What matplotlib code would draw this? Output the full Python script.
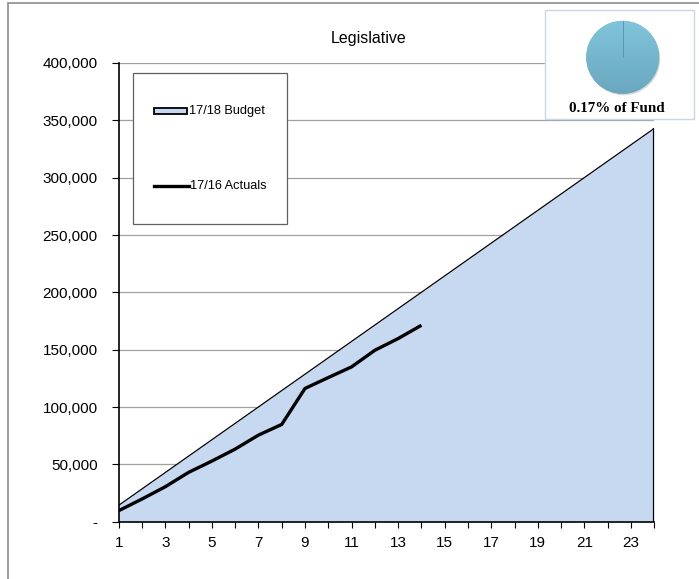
import numpy as np
import matplotlib
matplotlib.use('Agg')
import matplotlib.pyplot as plt
from matplotlib.patches import Rectangle, Circle
from matplotlib.lines import Line2D
from matplotlib.ticker import FuncFormatter, MultipleLocator

plt.rcParams['font.family'] = ['Liberation Sans', 'DejaVu Sans']

# data
months = list(range(1, 25))
budget = [14292, 28583, 42875, 57167, 71458, 85750, 100042, 114333, 128625, 142917,
          157208, 171500, 185792, 200083, 214375, 228667, 242958, 257250, 271542,
          285833, 300125, 314417, 328708, 343000]
actual_months = list(range(1, 15))
actuals = [9580, 19770, 30480, 43000, 52860, 63300, 75500, 84800, 116200, 125700,
           135000, 149500, 159700, 171300]
fund_share = [0.17, 99.83]

title = 'Legislative'
budget_label = '17/18 Budget'
actual_label = '17/16 Actuals'
pie_label = '0.17% of Fund'

W, H = 699, 579
fig = plt.figure(figsize=(W / 100, H / 100), dpi=100)

def fx(px):
    return px / W

def fy(py):
    return 1 - py / H

ax = fig.add_axes([fx(118.7), fy(521.7), fx(654.3) - fx(118.7), fy(63) - fy(521.7)])

fill_color = '#C6D9F0'
ax.fill_between(months, budget, 0, color=fill_color, lw=0, zorder=1)
ax.plot(months, budget, color='black', lw=0.9, zorder=2)
ax.vlines(months[-1], 0, budget[-1], color='black', lw=1.6, zorder=2)
ax.plot(actual_months, actuals, color='black', lw=2.4, solid_capstyle='butt', zorder=3)

ax.set_xlim(1, 24)
ax.set_ylim(0, 400000)
ax.xaxis.set_major_locator(MultipleLocator(2))
ax.xaxis.set_minor_locator(MultipleLocator(1))
ax.set_xticks(range(1, 24, 2))
ax.yaxis.set_major_locator(MultipleLocator(50000))
ax.yaxis.set_major_formatter(FuncFormatter(lambda v, p: '-' if v == 0 else f'{int(v):,}'))
ax.tick_params(axis='x', which='both', length=4, width=0.8, direction='out', pad=6, labelsize=11)
ax.tick_params(axis='y', length=5, width=0.8, direction='out', pad=10, labelsize=11)
ax.grid(axis='y', color='#A0A0A0', lw=0.9, zorder=0)
ax.set_axisbelow(True)
for s in ['top', 'right']:
    ax.spines[s].set_visible(False)
for s in ['left', 'bottom']:
    ax.spines[s].set_linewidth(1.2)
    ax.spines[s].set_zorder(4)

fig.text(fx(369), fy(38), title, ha='center', va='center', fontsize=11.5)

# outer border (right and bottom edges fall outside the image)
fig.patches.append(Rectangle((fx(8), fy(590)), fx(710) - fx(8), fy(3) - fy(590),
                             transform=fig.transFigure, fill=False, ec='#8C8C8C', lw=1.2))

# legend box drawn by hand
fig.patches.append(Rectangle((fx(132.5), fy(223.5)), fx(286.5) - fx(132.5), fy(72.5) - fy(223.5),
                             transform=fig.transFigure, fc='white', ec='#606060', lw=0.9, zorder=5))
fig.patches.append(Rectangle((fx(154), fy(114)), fx(187) - fx(154), fy(108) - fy(114),
                             transform=fig.transFigure, fc=fill_color, ec='black', lw=1.3, zorder=6))
fig.text(fx(189), fy(111), budget_label, ha='left', va='center', fontsize=9.2, zorder=6)
fig.lines.append(Line2D([fx(154), fx(189)], [fy(186), fy(186)], transform=fig.transFigure,
                        color='black', lw=2.4, zorder=6))
fig.text(fx(190), fy(186), actual_label, ha='left', va='center', fontsize=9.2, zorder=6)

# pie inset
fig.patches.append(Rectangle((fx(545), fy(119)), fx(694) - fx(545), fy(9.5) - fy(119),
                             transform=fig.transFigure, fc='white', ec='#C9D8E6', lw=1.0, zorder=7))
cx, cy, r = 622.7, 57.3, 36.5 * 1.08
pax = fig.add_axes([fx(cx - r), fy(cy + r), fx(2 * r), fy(cy - r) - fy(cy + r)], zorder=8)
pax.set_aspect('equal')
pax.axis('off')
wedges, _ = pax.pie(fund_share, startangle=90, counterclock=False, radius=1.0,
                    colors=['#78BCD4', '#78BCD4'], wedgeprops=dict(lw=0))
shadow = Circle((0.03, -0.04), 1.0, fc='#D8D8D8', ec='none', zorder=0)
pax.add_patch(shadow)
grad = np.linspace(0, 1, 256).reshape(-1, 1)
top = np.array([0x80, 0xC5, 0xDB]) / 255
bot = np.array([0x6A, 0xA7, 0xBE]) / 255
img = top[None, None, :] * (1 - grad[:, :, None]) + bot[None, None, :] * grad[:, :, None]
im = pax.imshow(img, extent=(-1, 1, -1, 1), origin='upper', zorder=2, aspect='auto')
im.set_clip_path(Circle((0, 0), 1.0, transform=pax.transData))
pax.plot([0, 0], [0, 1], color='#4F94B0', lw=0.6, zorder=3)
pax.set_xlim(-1.08, 1.08)
pax.set_ylim(-1.08, 1.08)
fig.text(fx(617), fy(109), pie_label, ha='center', va='center', fontsize=10.8,
         family='Liberation Serif', weight='bold', zorder=9)

fig.savefig('out.png', dpi=100)
